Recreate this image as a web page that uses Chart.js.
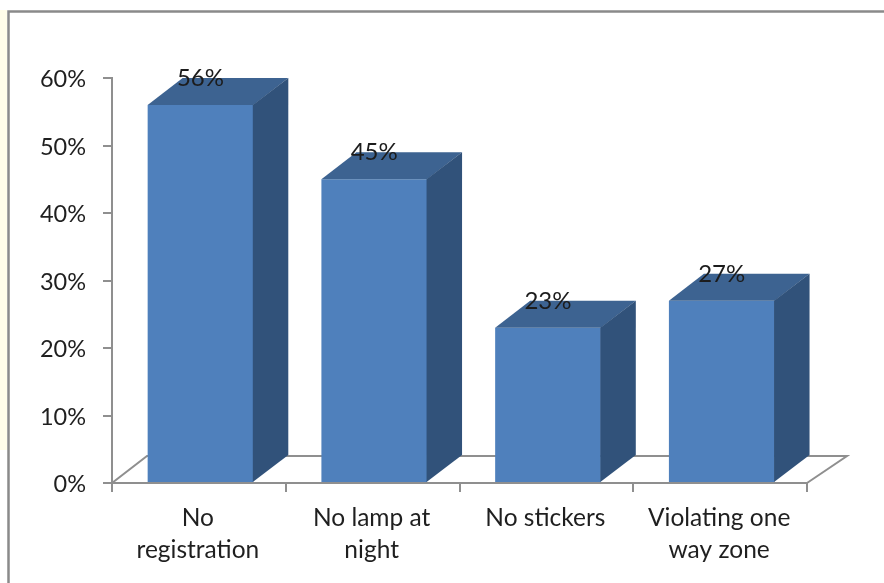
<!DOCTYPE html>
<html>
<head>
<meta charset="utf-8">
<style>html,body{margin:0;padding:0;background:#fff}canvas{display:block}</style>
<script src="https://cdn.jsdelivr.net/npm/chart.js@4"></script>
</head>
<body>
<canvas id="c" width="884" height="583"></canvas>
<script>
const categories = [['No', 'registration'], ['No lamp at', 'night'], ['No stickers'], ['Violating one', 'way zone']];
const percentages = [56, 45, 23, 27];
const yTicks = [0, 10, 20, 30, 40, 50, 60];

const FONT = 'Lato, "Open Sans", sans-serif';
const AXIS_GRAY = '#8f8f8f';
const DEPTH_X = 35, DEPTH_Y = 27, FLOOR_RIGHT_X = 40, BAR_SHIFT = 1.6;

function poly(ctx, pts, fill) {
  ctx.beginPath();
  pts.forEach((p, i) => i ? ctx.lineTo(p[0], p[1]) : ctx.moveTo(p[0], p[1]));
  ctx.closePath();
  ctx.fillStyle = fill;
  ctx.fill();
}

// Slide frame, floor of the 3D plot, and the extruded faces of each column.
const depthPlugin = {
  id: 'depth',
  beforeDraw(chart) {
    const ctx = chart.ctx;
    ctx.save();
    ctx.fillStyle = '#fff';
    ctx.fillRect(0, 0, chart.width, chart.height);
    ctx.fillStyle = '#fffde9';
    ctx.fillRect(0, 10, 7, 440);
    ctx.strokeStyle = '#8a8a8a';
    ctx.lineWidth = 2.5;
    ctx.beginPath();
    ctx.moveTo(8.5, chart.height);
    ctx.lineTo(8.5, 11.5);
    ctx.lineTo(chart.width, 11.5);
    ctx.stroke();
    ctx.restore();
  },
  beforeDatasetsDraw(chart) {
    const ctx = chart.ctx, a = chart.chartArea;
    ctx.save();
    ctx.strokeStyle = AXIS_GRAY;
    ctx.lineWidth = 2;
    ctx.beginPath();
    ctx.moveTo(a.left, a.bottom);
    ctx.lineTo(a.left + DEPTH_X, a.bottom - DEPTH_Y);
    ctx.lineTo(a.right + FLOOR_RIGHT_X, a.bottom - DEPTH_Y);
    ctx.lineTo(a.right, a.bottom);
    ctx.stroke();
    ctx.restore();
    ctx.save();
    ctx.translate(BAR_SHIFT, 0);
  },
  afterDatasetsDraw(chart) {
    const ctx = chart.ctx;
    chart.getDatasetMeta(0).data.forEach(bar => {
      const half = bar.width / 2;
      const l = bar.x - half, r = bar.x + half, t = bar.y, b = bar.base;
      poly(ctx, [[l, t], [r, t], [r + DEPTH_X, t - DEPTH_Y], [l + DEPTH_X, t - DEPTH_Y]], '#3d6391');
      poly(ctx, [[r - 0.5, t], [r + DEPTH_X, t - DEPTH_Y], [r + DEPTH_X, b - DEPTH_Y], [r - 0.5, b]], '#31527a');
    });
    ctx.fillStyle = '#1c1c1c';
    ctx.font = '24px ' + FONT;
    ctx.textAlign = 'center';
    ctx.textBaseline = 'middle';
    chart.getDatasetMeta(0).data.forEach((bar, i) => {
      ctx.fillText(percentages[i] + '%', bar.x, bar.y - DEPTH_Y + 0.5);
    });
    ctx.restore();
  }
};

new Chart(document.getElementById('c'), {
  type: 'bar',
  data: {
    labels: categories,
    datasets: [{
      data: percentages,
      backgroundColor: '#4f80bc',
      borderWidth: 0,
      categoryPercentage: 1,
      barPercentage: 0.608
    }]
  },
  options: {
    responsive: false,
    animation: false,
    layout: { padding: { top: 78, right: 77, left: 0, bottom: 0 } },
    plugins: { legend: { display: false }, tooltip: { enabled: false } },
    scales: {
      x: {
        afterFit(s) { s.height = 100; },
        border: { color: AXIS_GRAY, width: 2 },
        grid: { drawOnChartArea: false, color: AXIS_GRAY, lineWidth: 2, tickLength: 9 },
        ticks: {
          color: '#1f1f1f', padding: 10, labelOffset: -1, maxRotation: 0, autoSkip: false,
          font: { family: FONT, size: 24.5, lineHeight: 1.31 }
        }
      },
      y: {
        min: 0, max: 60,
        afterFit(s) { s.width = 112; },
        afterBuildTicks(s) { s.ticks = yTicks.map(v => ({ value: v })); },
        border: { color: AXIS_GRAY, width: 2 },
        grid: { drawOnChartArea: false, color: AXIS_GRAY, lineWidth: 2, tickLength: 9 },
        ticks: {
          color: '#1f1f1f', padding: 17, labelOffset: 1.5,
          font: { family: FONT, size: 23.5 },
          callback: v => v + '%'
        }
      }
    }
  },
  plugins: [depthPlugin]
});
</script>
</body>
</html>
